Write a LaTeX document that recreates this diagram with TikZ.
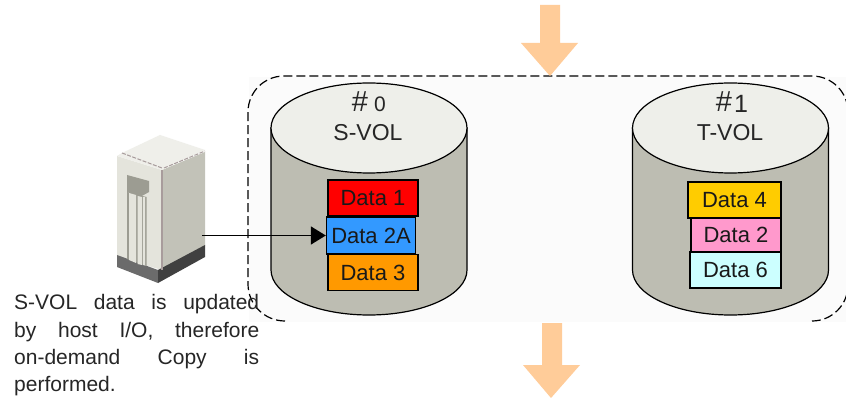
\documentclass[tikz,border=0pt]{standalone}
\usepackage{fontspec}
\setmainfont{Liberation Sans}
\usetikzlibrary{arrows.meta}
\definecolor{cylgray}{HTML}{BDBDB2}
\definecolor{cyllight}{HTML}{EEEFEA}
\definecolor{flow}{HTML}{FFCC99}
\definecolor{srvl}{HTML}{E4E4DC}
\definecolor{srvr}{HTML}{C2C2B8}
\definecolor{srvt}{HTML}{EFEFEA}
\definecolor{srve}{HTML}{A89C9C}
\definecolor{srvp}{HTML}{9C9C92}
\tikzset{
  cylbody/.style={fill=cylgray,draw=black,line width=1.2pt},
  cyltop/.style={fill=cyllight,draw=black,line width=1.2pt},
  databox/.style={draw=black,line width=1.4pt,inner sep=0pt,font=\fontsize{22}{24}\selectfont,text=black!90},
  vollabel/.style={inner sep=0pt,font=\fontsize{23}{24}\selectfont,text=black!85},
  flowarrow/.style={fill=flow,draw=none},
  frameline/.style={draw=black,line width=1.2pt,dash pattern=on 9pt off 4pt},
  linkline/.style={draw=black,line width=1.6pt,-{Triangle[length=15pt,width=18pt]}}
}
\begin{document}
\begin{tikzpicture}[x=1pt,y=-1pt]
\useasboundingbox (0,0) rectangle (846,398);
\clip (0,0) rectangle (846,398);
\fill[white] (0,0) rectangle (846,398);
\fill[black!1.5] (249,77) rectangle (846,322);
% frame
\path[frameline] (285,321) arc[x radius=37,y radius=37,start angle=90,end angle=180]
   -- (248,112) arc[x radius=36,y radius=36,start angle=180,end angle=270]
   -- (812,76) arc[x radius=36,y radius=36,start angle=270,end angle=360]
   -- (848,285) arc[x radius=36,y radius=36,start angle=0,end angle=90];
% flow arrows
\path[flowarrow] (540,5) -- (560,5) -- (560,43) -- (578,43) -- (550,76) -- (521,43) -- (540,43) -- cycle;
\path[flowarrow] (542,323) -- (562,323) -- (562,365) -- (580,365) -- (551,398) -- (523,365) -- (542,365) -- cycle;
% cylinders
\path[cylbody] (271,128) -- (271,270) arc[x radius=98,y radius=45,start angle=180,end angle=0] -- (467,128) -- cycle;
\path[cyltop] (369,128) ellipse[x radius=98,y radius=45];
\path[cylbody] (632.5,128) -- (632.5,270) arc[x radius=98,y radius=45,start angle=180,end angle=0] -- (828.5,128) -- cycle;
\path[cyltop] (730.5,128) ellipse[x radius=98,y radius=45];
\node[vollabel,font=\fontsize{29}{30}\selectfont] (h0) at (360,102) {\#};
\node[vollabel,font=\fontsize{21}{22}\selectfont] (n0) at (380,104) {0};
\node[vollabel] (s) at (368,133) {S-VOL};
\node[vollabel,font=\fontsize{29}{30}\selectfont] (h1) at (724,102) {\#};
\node[vollabel,font=\fontsize{25}{26}\selectfont] (n1) at (741,104) {1};
\node[vollabel] (t) at (730,133) {T-VOL};
% data boxes
\node[databox,fill=red,minimum width=90pt,minimum height=36pt] (d1) at (373,198) {Data 1};
\node[databox,fill={rgb,255:red,255;green,153;blue,0},minimum width=90pt,minimum height=36pt] (d3) at (373,272.5) {Data 3};
\node[databox,fill={rgb,255:red,51;green,153;blue,255},minimum width=89pt,minimum height=37pt] (d2a) at (371,235.5) {Data 2A};
\node[databox,fill={rgb,255:red,255;green,204;blue,0},minimum width=93pt,minimum height=36pt] (d4) at (734.5,200) {Data 4};
\node[databox,fill={rgb,255:red,255;green,153;blue,204},minimum width=90pt,minimum height=34pt] (d2) at (736,235) {Data 2};
\node[databox,fill={rgb,255:red,204;green,255;blue,255},minimum width=91pt,minimum height=36pt] (d6) at (735.5,270) {Data 6};
% server
\fill[srvl] (117,156) -- (162,170) -- (162,270) -- (117,257) -- cycle;
\fill[srvr] (162,170) -- (205,152) -- (205,246) -- (162,270) -- cycle;
\fill[srvt] (122,153) -- (160,135) -- (205,150) -- (162,170) -- (117,156) -- cycle;
\fill[black!58] (117,255) -- (158,270) -- (158,283) -- (117,267) -- cycle;
\fill[black!75] (158,270) -- (205,245) -- (205,257) -- (158,283) -- cycle;
\draw[srve,line width=1.3pt] (162,170) -- (162,270);
\draw[srve,line width=1pt,dash pattern=on 4pt off 1.5pt] (122,153) -- (162,168);
\draw[srve,line width=1pt,dash pattern=on 4pt off 1.5pt] (164,168) -- (205,151);
\fill[srvp] (127,192) -- (146.5,197) -- (146.5,266) -- (127,259) -- cycle;
\fill[srvp] (127,175) -- (149,181) -- (149,192) -- (140,197) -- (127,192) -- cycle;
\fill[srvl] (129,193) -- (136,195) -- (136,263) -- (129,260) -- cycle;
\fill[srvl] (137.5,196) -- (142,197) -- (142,265) -- (137.5,264) -- cycle;
\fill[srvl] (143,197) -- (145,197) -- (145,265.5) -- (143,265) -- cycle;
\coordinate (srv) at (202,235.5);
% link
\draw[linkline] (srv) -- (d2a.west);
% caption
\node[anchor=north west,inner sep=0pt,align=left,font=\fontsize{21}{27.3}\selectfont,text=black!85] (cap) at (14,294.5) {%
\makebox[245pt][s]{S-VOL data is updated}\\
\makebox[245pt][s]{by host I/O, therefore}\\
\makebox[245pt][s]{on-demand Copy is}\\
performed.};
\end{tikzpicture}
\end{document}
